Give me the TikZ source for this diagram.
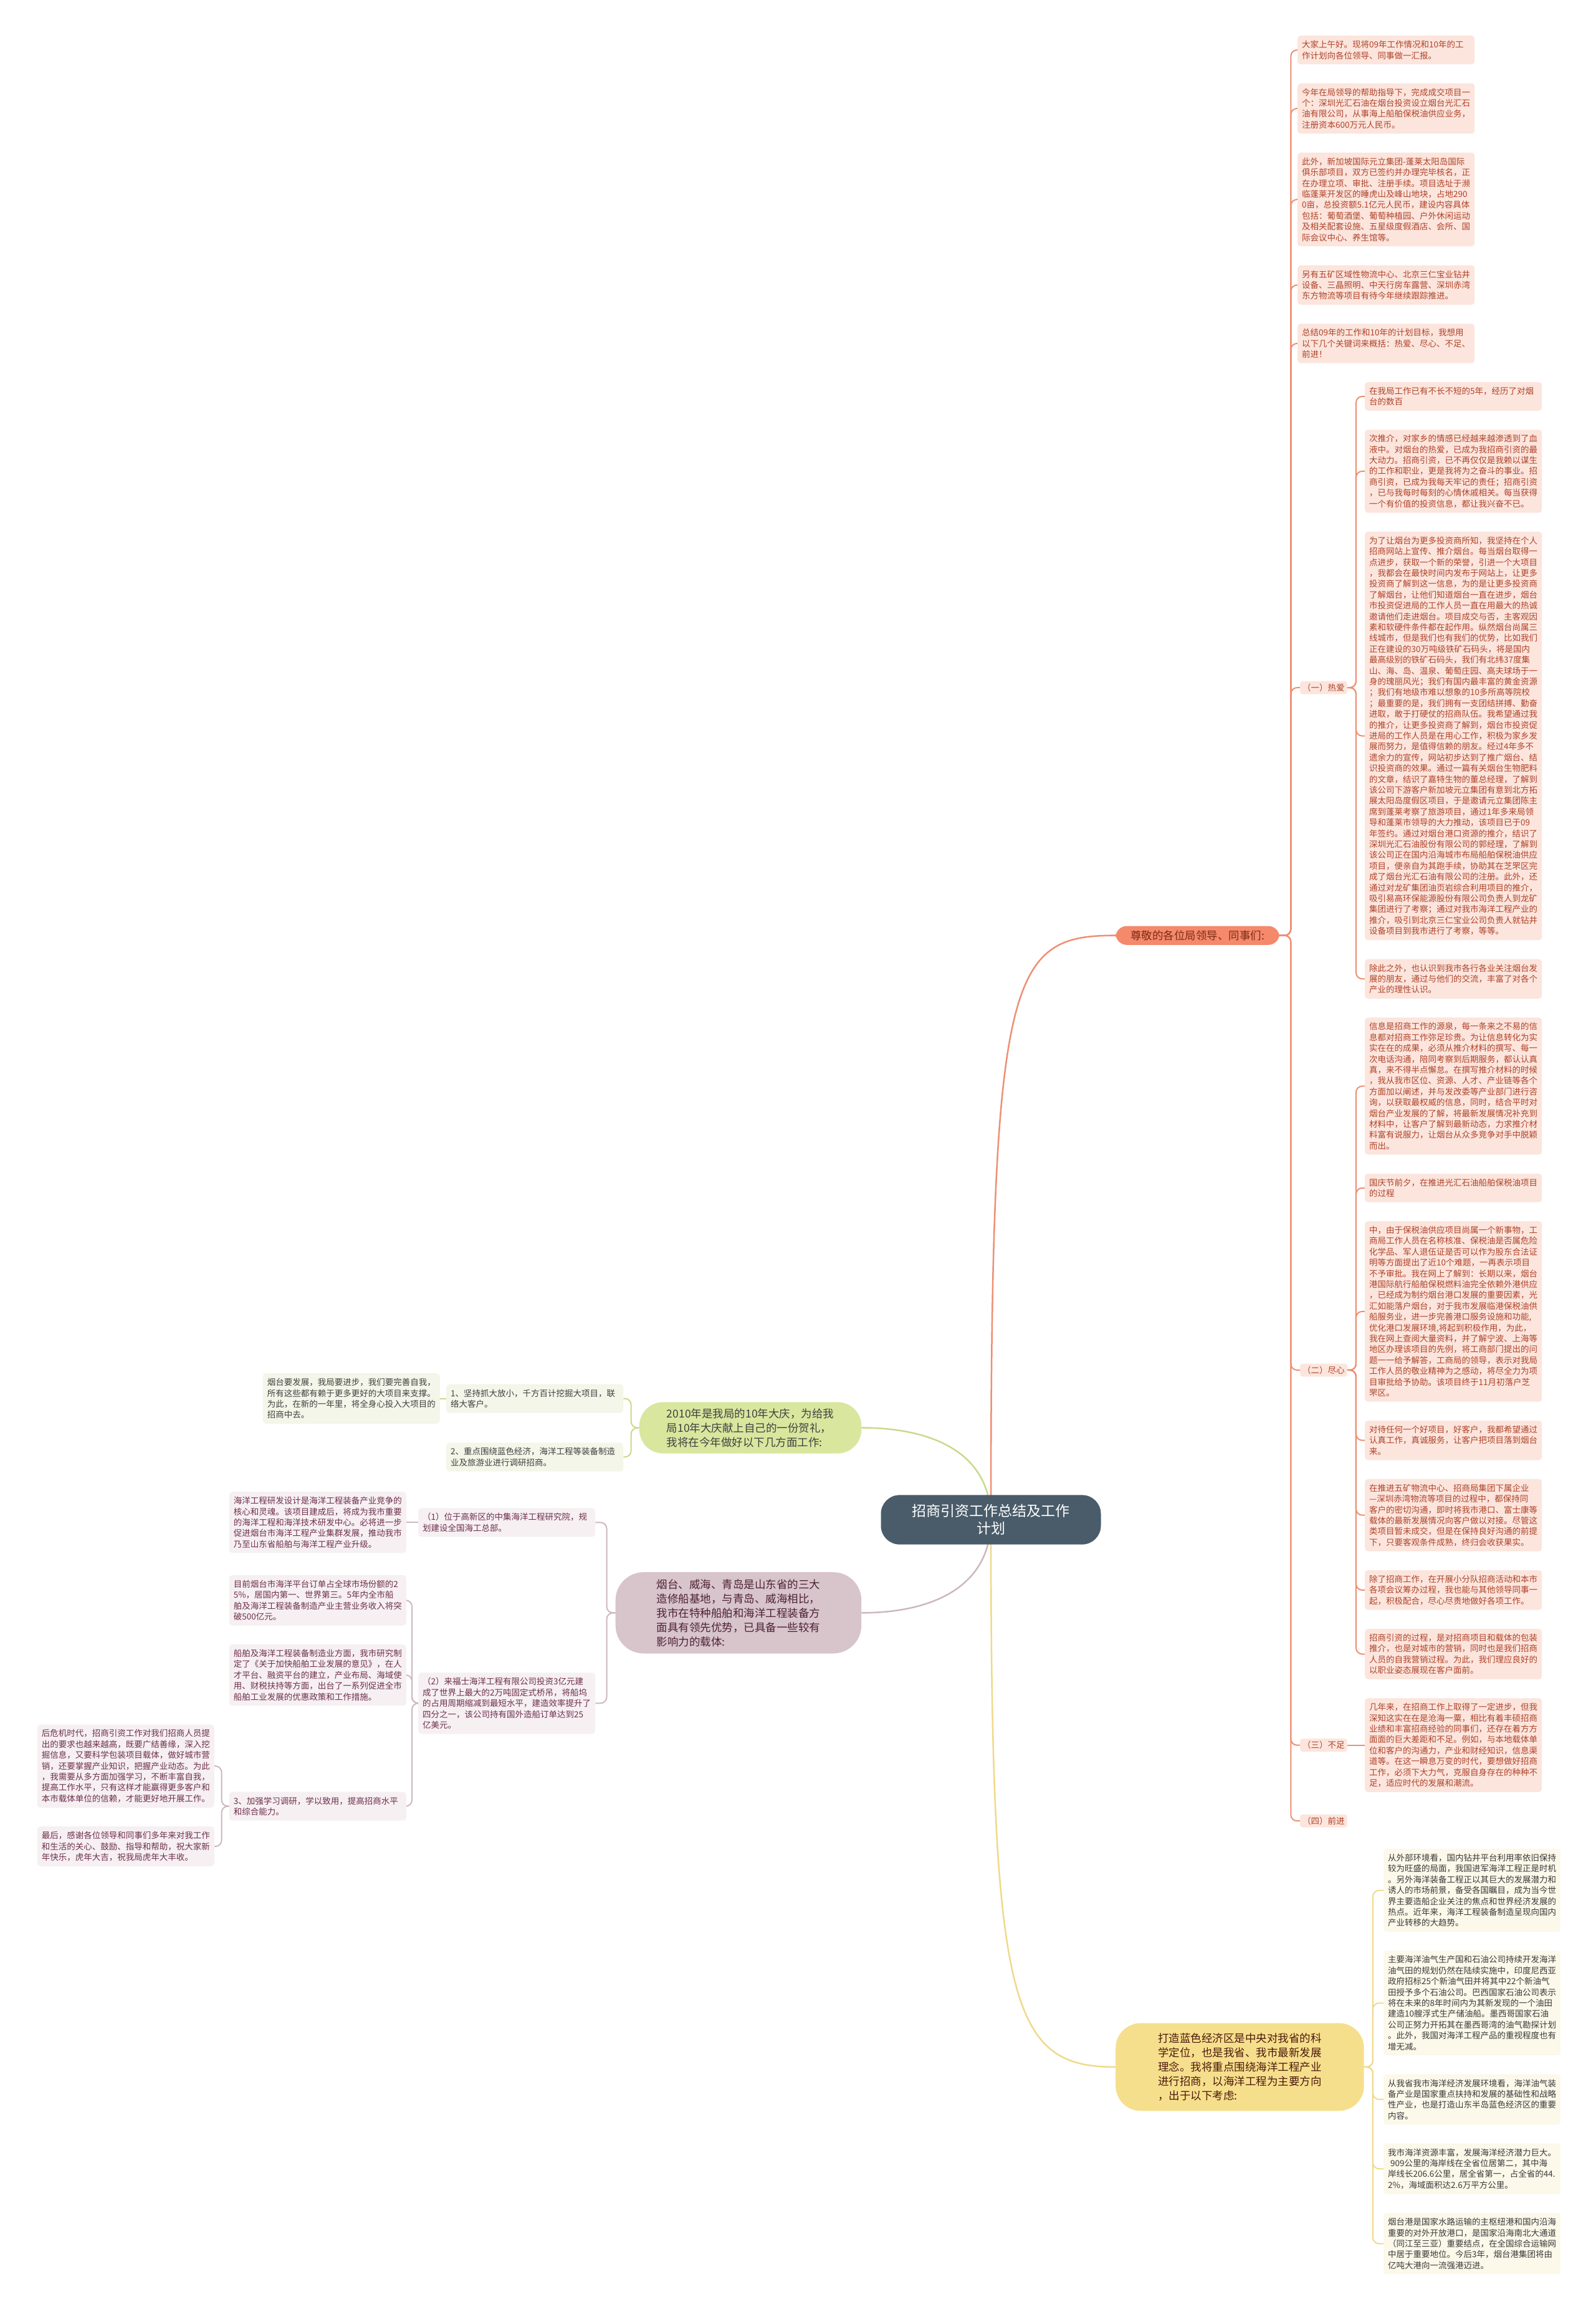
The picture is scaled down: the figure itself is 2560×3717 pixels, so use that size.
\documentclass[tikz,border=0pt]{standalone}
\usepackage{fontspec}
\newfontfamily\cjk{Noto Sans CJK SC}
\usetikzlibrary{positioning,calc,backgrounds}
\definecolor{salwirec}{HTML}{EE8F73}
\definecolor{salfill}{HTML}{FCE5DD}
\definecolor{saltext}{HTML}{AE4329}
\definecolor{salbr}{HTML}{F4896B}
\definecolor{salbrtext}{HTML}{7D2A14}
\definecolor{hubfill}{HTML}{4A5C6A}
\definecolor{grnwirec}{HTML}{C8DA8C}
\definecolor{grnbr}{HTML}{D9E69E}
\definecolor{grnfill}{HTML}{F3F6E8}
\definecolor{grntext}{HTML}{404040}
\definecolor{mvwirec}{HTML}{CDB8BF}
\definecolor{mvbr}{HTML}{D8C4CB}
\definecolor{mvfill}{HTML}{F6F0F2}
\definecolor{mvtext}{HTML}{6E2F4C}
\definecolor{yelwirec}{HTML}{F0D98A}
\definecolor{yelbr}{HTML}{F6DF8C}
\definecolor{yelfill}{HTML}{FCF8EA}
\definecolor{yeltext}{HTML}{3A3A3A}

\begin{document}
\begin{tikzpicture}[x=1pt,y=-1pt,
leaf/.style={rounded corners=5pt,align=left,text width=270pt,inner xsep=7pt,inner ysep=8pt,font=\cjk\fontsize{13.5}{17.4}\selectfont},
salleaf/.style={leaf,fill=salfill,text=saltext},
grnleaf/.style={leaf,fill=grnfill,text=grntext},
mvleaf/.style={leaf,fill=mvfill,text=mvtext},
yelleaf/.style={leaf,fill=yelfill,text=yeltext},
sallab/.style={rounded corners=4pt,fill=salfill,text=saltext,inner xsep=4pt,inner ysep=4pt,font=\cjk\fontsize{13.5}{17.4}\selectfont},
branch/.style={align=left,font=\cjk\fontsize{17.5}{23}\selectfont},
hub/.style={rounded corners=30pt,fill=hubfill,text=white,align=center,inner xsep=50pt,inner ysep=15pt,font=\cjk\fontsize{23}{28}\selectfont},
wire/.style={line width=2pt,rounded corners=10pt},
salwire/.style={wire,draw=salwirec},
grnwire/.style={wire,draw=grnwirec},
mvwire/.style={wire,draw=mvwirec},
yelwire/.style={wire,draw=yelwirec}]
\useasboundingbox (0,0) rectangle (2560,3717);

% root
\node[hub] (root) at (1590,2438) {招商引资工作总结及工作\\计划};

% right: greeting branch
\node[salleaf,anchor=north west] (t1) at (2082,57) {大家上午好。现将09年工作情况和10年的工\\作计划向各位领导、同事做一汇报。};
\node[salleaf,below=30pt of t1] (t2) {今年在局领导的帮助指导下，完成成交项目一\\个：深圳光汇石油在烟台投资设立烟台光汇石\\油有限公司，从事海上船舶保税油供应业务，\\注册资本600万元人民币。};
\node[salleaf,below=30pt of t2] (t3) {此外，新加坡国际元立集团-蓬莱太阳岛国际\\俱乐部项目，双方已签约并办理完毕核名，正\\在办理立项、审批、注册手续。项目选址于濒\\临蓬莱开发区的睡虎山及峰山地块，占地290\\0亩，总投资额5.1亿元人民币，建设内容具体\\包括：葡萄酒堡、葡萄种植园、户外休闲运动\\及相关配套设施、五星级度假酒店、会所、国\\际会议中心、养生馆等。};
\node[salleaf,below=30pt of t3] (t4) {另有五矿区域性物流中心、北京三仁宝业钻井\\设备、三晶照明、中天行房车露营、深圳赤湾\\东方物流等项目有待今年继续跟踪推进。};
\node[salleaf,below=30pt of t4] (t5) {总结09年的工作和10年的计划目标，我想用\\以下几个关键词来概括：热爱、尽心、不足、\\前进！};

\node[salleaf,anchor=north west] (ra1) at ($(t5.south west)+(108,30)$) {在我局工作已有不长不短的5年，经历了对烟\\台的数百};
\node[salleaf,below=30pt of ra1] (ra2) {次推介，对家乡的情感已经越来越渗透到了血\\液中。对烟台的热爱，已成为我招商引资的最\\大动力。招商引资，已不再仅仅是我赖以谋生\\的工作和职业，更是我将为之奋斗的事业。招\\商引资，已成为我每天牢记的责任；招商引资\\，已与我每时每刻的心情休戚相关。每当获得\\一个有价值的投资信息，都让我兴奋不已。};
\node[salleaf,below=30pt of ra2] (ra3) {为了让烟台为更多投资商所知，我坚持在个人\\招商网站上宣传、推介烟台。每当烟台取得一\\点进步，获取一个新的荣誉，引进一个大项目\\，我都会在最快时间内发布于网站上，让更多\\投资商了解到这一信息，为的是让更多投资商\\了解烟台，让他们知道烟台一直在进步，烟台\\市投资促进局的工作人员一直在用最大的热诚\\邀请他们走进烟台。项目成交与否，主客观因\\素和软硬件条件都在起作用。纵然烟台尚属三\\线城市，但是我们也有我们的优势，比如我们\\正在建设的30万吨级铁矿石码头，将是国内\\最高级别的铁矿石码头，我们有北纬37度集\\山、海、岛、温泉、葡萄庄园、高夫球场于一\\身的瑰丽风光；我们有国内最丰富的黄金资源\\；我们有地级市难以想象的10多所高等院校\\；最重要的是，我们拥有一支团结拼搏、勤奋\\进取，敢于打硬仗的招商队伍。我希望通过我\\的推介，让更多投资商了解到，烟台市投资促\\进局的工作人员是在用心工作，积极为家乡发\\展而努力，是值得信赖的朋友。经过4年多不\\遗余力的宣传，网站初步达到了推广烟台、结\\识投资商的效果。通过一篇有关烟台生物肥料\\的文章，结识了嘉特生物的董总经理，了解到\\该公司下游客户新加坡元立集团有意到北方拓\\展太阳岛度假区项目，于是邀请元立集团陈主\\席到蓬莱考察了旅游项目，通过1年多来局领\\导和蓬莱市领导的大力推动，该项目已于09\\年签约。通过对烟台港口资源的推介，结识了\\深圳光汇石油股份有限公司的郭经理，了解到\\该公司正在国内沿海城市布局船舶保税油供应\\项目，便亲自为其跑手续，协助其在芝罘区完\\成了烟台光汇石油有限公司的注册。此外，还\\通过对龙矿集团油页岩综合利用项目的推介，\\吸引易高环保能源股份有限公司负责人到龙矿\\集团进行了考察；通过对我市海洋工程产业的\\推介，吸引到北京三仁宝业公司负责人就钻井\\设备项目到我市进行了考察，等等。};
\node[salleaf,below=30pt of ra3] (ra4) {除此之外，也认识到我市各行各业关注烟台发\\展的朋友，通过与他们的交流，丰富了对各个\\产业的理性认识。};
\node[sallab,anchor=west] (reai) at ($(ra1.west)!.5!(ra4.west)+(-104,0)$) {（一）热爱};

\node[salleaf,anchor=north west] (jx1) at ($(ra4.south west)+(0,30)$) {信息是招商工作的源泉，每一条来之不易的信\\息都对招商工作弥足珍贵。为让信息转化为实\\实在在的成果，必须从推介材料的撰写、每一\\次电话沟通，陪同考察到后期服务，都认认真\\真，来不得半点懈怠。在撰写推介材料的时候\\，我从我市区位、资源、人才、产业链等各个\\方面加以阐述，并与发改委等产业部门进行咨\\询，以获取最权威的信息，同时，结合平时对\\烟台产业发展的了解，将最新发展情况补充到\\材料中，让客户了解到最新动态，力求推介材\\料富有说服力，让烟台从众多竞争对手中脱颖\\而出。};
\node[salleaf,below=30pt of jx1] (jx2) {国庆节前夕，在推进光汇石油船舶保税油项目\\的过程};
\node[salleaf,below=30pt of jx2] (jx3) {中，由于保税油供应项目尚属一个新事物，工\\商局工作人员在名称核准、保税油是否属危险\\化学品、军人退伍证是否可以作为股东合法证\\明等方面提出了近10个难题，一再表示项目\\不予审批。我在网上了解到：长期以来，烟台\\港国际航行船舶保税燃料油完全依赖外港供应\\，已经成为制约烟台港口发展的重要因素，光\\汇如能落户烟台，对于我市发展临港保税油供\\船服务业，进一步完善港口服务设施和功能,\\优化港口发展环境,将起到积极作用，为此，\\我在网上查阅大量资料，并了解宁波、上海等\\地区办理该项目的先例，将工商部门提出的问\\题一一给予解答，工商局的领导，表示对我局\\工作人员的敬业精神为之感动，将尽全力为项\\目审批给予协助。该项目终于11月初落户芝\\罘区。};
\node[salleaf,below=30pt of jx3] (jx4) {对待任何一个好项目，好客户，我都希望通过\\认真工作，真诚服务，让客户把项目落到烟台\\来。};
\node[salleaf,below=30pt of jx4] (jx5) {在推进五矿物流中心、招商局集团下属企业\\—深圳赤湾物流等项目的过程中，都保持同\\客户的密切沟通，即时将我市港口、富士康等\\载体的最新发展情况向客户做以对接。尽管这\\类项目暂未成交，但是在保持良好沟通的前提\\下，只要客观条件成熟，终归会收获果实。};
\node[salleaf,below=30pt of jx5] (jx6) {除了招商工作，在开展小分队招商活动和本市\\各项会议筹办过程，我也能与其他领导同事一\\起，积极配合，尽心尽责地做好各项工作。};
\node[salleaf,below=30pt of jx6] (jx7) {招商引资的过程，是对招商项目和载体的包装\\推介，也是对城市的营销，同时也是我们招商\\人员的自我营销过程。为此，我们理应良好的\\以职业姿态展现在客户面前。};
\node[sallab,anchor=west] (jinxin) at ($(jx1.west)!.5!(jx7.west)+(-104,0)$) {（二）尽心};

\node[salleaf,anchor=north west] (bz1) at ($(jx7.south west)+(0,30)$) {几年来，在招商工作上取得了一定进步，但我\\深知这实在在是沧海一粟，相比有着丰硕招商\\业绩和丰富招商经验的同事们，还存在着方方\\面面的巨大差距和不足。例如，与本地载体单\\位和客户的沟通力，产业和财经知识，信息渠\\道等。在这一瞬息万变的时代，要想做好招商\\工作，必须下大力气，克服自身存在的种种不\\足，适应时代的发展和潮流。};
\node[sallab,anchor=west] (buzu) at ($(bz1.west)+(-104,0)$) {（三）不足};
\node[sallab,anchor=west] (qianjin) at ($(bz1.south west)+(-104,46)$) {（四）前进};

\node[branch,rounded corners=18pt,fill=salbr,text=salbrtext,inner xsep=24pt,inner ysep=7pt,anchor=west] (greet) at ($(t1.west)!.5!(qianjin.west)+(-294,0)$) {尊敬的各位局领导、同事们:};

% right: blue economy branch
\node[yelleaf,anchor=north west] (lan1) at ($(qianjin.south west)+(134,34)$) {从外部环境看，国内钻井平台利用率依旧保持\\较为旺盛的局面，我国进军海洋工程正是时机\\。另外海洋装备工程正以其巨大的发展潜力和\\诱人的市场前景，备受各国瞩目，成为当今世\\界主要造船企业关注的焦点和世界经济发展的\\热点。近年来，海洋工程装备制造呈现向国内\\产业转移的大趋势。};
\node[yelleaf,below=30pt of lan1] (lan2) {主要海洋油气生产国和石油公司持续开发海洋\\油气田的规划仍然在陆续实施中，印度尼西亚\\政府招标25个新油气田并将其中22个新油气\\田授予多个石油公司。巴西国家石油公司表示\\将在未来的8年时间内为其新发现的一个油田\\建造10艘浮式生产储油船。墨西哥国家石油\\公司正努力开拓其在墨西哥湾的油气勘探计划\\。此外，我国对海洋工程产品的重视程度也有\\增无减。};
\node[yelleaf,below=30pt of lan2] (lan3) {从我省我市海洋经济发展环境看，海洋油气装\\备产业是国家重点扶持和发展的基础性和战略\\性产业，也是打造山东半岛蓝色经济区的重要\\内容。};
\node[yelleaf,below=30pt of lan3] (lan4) {我市海洋资源丰富，发展海洋经济潜力巨大。\\\hspace*{4pt}909公里的海岸线在全省位居第二，其中海\\岸线长206.6公里，居全省第一，占全省的44.\\2\%，海域面积达2.6万平方公里。};
\node[yelleaf,below=30pt of lan4] (lan5) {烟台港是国家水路运输的主枢纽港和国内沿海\\重要的对外开放港口，是国家沿海南北大通道\\（同江至三亚）重要结点，在全国综合运输网\\中居于重要地位。今后3年，烟台港集团将由\\亿吨大港向一流强港迈进。};
\node[branch,rounded corners=40pt,fill=yelbr,text=salbrtext!60!black,inner xsep=68pt,inner ysep=16pt,anchor=west] (lanse) at ($(lan1.west)!.5!(lan5.west)+(-430,0)$) {打造蓝色经济区是中央对我省的科\\学定位，也是我省、我市最新发展\\理念。我将重点围绕海洋工程产业\\进行招商，以海洋工程为主要方向\\，出于以下考虑:};

% left: anniversary branch
\node[grnleaf,anchor=north east] (gy) at (706,2203) {烟台要发展，我局要进步，我们要完善自我，\\所有这些都有赖于更多更好的大项目来支撑。\\为此，在新的一年里，将全身心投入大项目的\\招商中去。};
\node[grnleaf,anchor=west] (g1) at ($(gy.east)+(10,0)$) {1、坚持抓大放小，千方百计挖掘大项目，联\\络大客户。};
\node[grnleaf,anchor=north west] (g2) at ($(gy.south east)+(10,30)$) {2、重点围绕蓝色经济，海洋工程等装备制造\\业及旅游业进行调研招商。};
\node[branch,rounded corners=38pt,fill=grnbr,text=grntext,inner xsep=44pt,inner ysep=10pt,anchor=east] (year) at ($(g1.east)!.5!(g2.east)+(382,0)$) {2010年是我局的10年大庆，为给我\\局10年大庆献上自己的一份贺礼，\\我将在今年做好以下几方面工作:};

% left: shipbuilding branch
\node[mvleaf,anchor=north east] (yanfa) at (652,2393) {海洋工程研发设计是海洋工程装备产业竞争的\\核心和灵魂。该项目建成后，将成为我市重要\\的海洋工程和海洋技术研发中心。必将进一步\\促进烟台市海洋工程产业集群发展，推动我市\\乃至山东省船舶与海洋工程产业升级。};
\node[mvleaf,anchor=west] (m1) at ($(yanfa.east)+(19,0)$) {（1）位于高新区的中集海洋工程研究院，规\\划建设全国海工总部。};
\node[mvleaf,below=35pt of yanfa] (mq1) {目前烟台市海洋平台订单占全球市场份额的2\\5\%，居国内第一、世界第三。5年内全市船\\舶及海洋工程装备制造产业主营业务收入将突\\破500亿元。};
\node[mvleaf,below=30pt of mq1] (mq2) {船舶及海洋工程装备制造业方面，我市研究制\\定了《关于加快船舶工业发展的意见》，在人\\才平台、融资平台的建立，产业布局、海域使\\用、财税扶持等方面，出台了一系列促进全市\\船舶工业发展的优惠政策和工作措施。};
\node[mvleaf,anchor=north east] (late1) at ($(mq2.south east)+(-308,30)$) {后危机时代，招商引资工作对我们招商人员提\\出的要求也越来越高，既要广结善缘，深入挖\\掘信息，又要科学包装项目载体，做好城市营\\销，还要掌握产业知识，把握产业动态。为此\\，我需要从多方面加强学习，不断丰富自我，\\提高工作水平，只有这样才能赢得更多客户和\\本市载体单位的信赖，才能更好地开展工作。};
\node[mvleaf,below=30pt of late1] (late2) {最后，感谢各位领导和同事们多年来对我工作\\和生活的关心、鼓励、指导和帮助，祝大家新\\年快乐，虎年大吉，祝我局虎年大丰收。};
\node[mvleaf,anchor=east] (m3) at ($(late1.east)!.5!(late2.east)+(308,0)$) {3、加强学习调研，学以致用，提高招商水平\\和综合能力。};
\node[mvleaf,anchor=west] (m2) at ($(mq1.east)!.5!(m3.east)+(19,0)$) {（2）来福士海洋工程有限公司投资3亿元建\\成了世界上最大的2万吨固定式桥吊，将船坞\\的占用周期缩减到最短水平，建造效率提升了\\四分之一，该公司持有国外造船订单达到25\\亿美元。};
\node[branch,rounded corners=45pt,fill=mvbr,text=mvtext!70!black,inner xsep=66pt,inner ysep=11pt,anchor=east] (port) at ($(m1.east)!.5!(m2.east)+(427,0)$) {烟台、威海、青岛是山东省的三大\\造修船基地，与青岛、威海相比，\\我市在特种船舶和海洋工程装备方\\面具有领先优势，已具备一些较有\\影响力的载体:};

% connectors
\begin{scope}[on background layer]
\fill[white] (0,0) rectangle (2560,3717);
\draw[salwire,line width=2.5pt,rounded corners=0pt] (root.center) .. controls +(0,-880) and +(-170,0) .. (greet.west);
\draw[yelwire,line width=2.5pt,rounded corners=0pt] (root.center) .. controls +(0,780) and +(-170,0) .. (lanse.west);
\draw[grnwire,line width=2.5pt,rounded corners=0pt] (root.center) .. controls +(0,-110) and +(110,0) .. (year.east);
\draw[mvwire,line width=2.5pt,rounded corners=0pt] (root.center) .. controls +(0,110) and +(110,0) .. (port.east);

\coordinate (gs) at ($(greet.east)+(18,0)$);
\foreach \k in {t1,t2,t3,t4,t5,reai,jinxin,buzu,qianjin}
  \draw[salwire] (greet.east) -- (gs) |- (\k.west);
\coordinate (rs) at ($(reai.east)+(14,0)$);
\foreach \k in {ra1,ra2,ra3,ra4}
  \draw[salwire] (reai.east) -- (rs) |- (\k.west);
\coordinate (js) at ($(jinxin.east)+(14,0)$);
\foreach \k in {jx1,jx2,jx3,jx4,jx5,jx6,jx7}
  \draw[salwire] (jinxin.east) -- (js) |- (\k.west);
\draw[salwire] (buzu.east) -- (bz1.west);

\coordinate (ls) at ($(lanse.east)+(14,0)$);
\foreach \k in {lan1,lan2,lan3,lan4,lan5}
  \draw[yelwire] (lanse.east) -- (ls) |- (\k.west);

\coordinate (ys) at ($(year.west)+(-13,0)$);
\foreach \k in {g1,g2}
  \draw[grnwire] (year.west) -- (ys) |- (\k.east);
\draw[grnwire] (g1.west) -- (gy.east);

\coordinate (ps) at ($(port.west)+(-14,0)$);
\foreach \k in {m1,m2}
  \draw[mvwire] (port.west) -- (ps) |- (\k.east);
\draw[mvwire] (m1.west) -- (yanfa.east);
\coordinate (m2s) at ($(m2.west)+(-10,0)$);
\foreach \k in {mq1,mq2,m3}
  \draw[mvwire] (m2.west) -- (m2s) |- (\k.east);
\coordinate (m3s) at ($(m3.west)+(-12,0)$);
\foreach \k in {late1,late2}
  \draw[mvwire] (m3.west) -- (m3s) |- (\k.east);
\end{scope}
\end{tikzpicture}
\end{document}
